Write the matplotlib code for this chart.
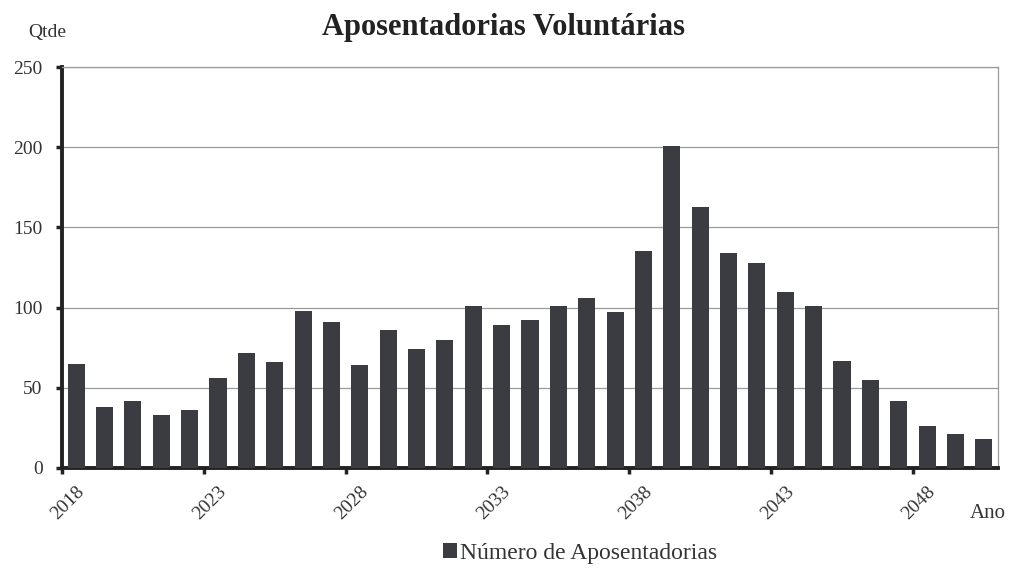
import matplotlib.pyplot as plt
import numpy as np

# Data
anos = list(range(2018, 2051))
aposentadorias = [65, 38, 42, 33, 36, 56, 72, 66, 98, 91,
                  64, 86, 74, 80, 101, 89, 92, 101, 106, 97,
                  135, 201, 163, 134, 128, 110, 101, 67, 55, 42,
                  26, 21, 18]
anos_rotulo = [2018, 2023, 2028, 2033, 2038, 2043, 2048]
y_ticks = [0, 50, 100, 150, 200, 250]

plt.rcParams['font.family'] = ['Liberation Serif', 'DejaVu Serif']

fig = plt.figure(figsize=(10.15, 5.75), dpi=100)
ax = fig.add_axes([62 / 1015, 1 - 468 / 575, 936 / 1015, 401 / 575])

bars = ax.bar(anos, aposentadorias, width=0.6, color='#3b3b42',
              label='Número de Aposentadorias', zorder=3)

ax.set_xlim(anos[0] - 0.5, anos[-1] + 0.5)
ax.set_ylim(0, 250)
ax.set_yticks(y_ticks)
ax.set_yticklabels([str(v) for v in y_ticks], fontsize=14, color='#333333')
ax.yaxis.grid(True, color='#9a9a9a', linewidth=0.9, zorder=0)
ax.tick_params(axis='y', length=4, width=2.5, color='#222222', pad=10)

# ticks between categories, labels on the category itself
ax.set_xticks([a - 0.5 for a in anos_rotulo])
ax.set_xticklabels([])
ax.tick_params(axis='x', which='major', length=4, width=2.5, color='#222222')
ax.set_xticks(anos_rotulo, minor=True)
ax.set_xticklabels([str(a) for a in anos_rotulo], minor=True, rotation=45,
                   ha='right', va='top', rotation_mode='anchor',
                   fontsize=14, color='#333333')
ax.tick_params(axis='x', which='minor', length=0, pad=11)

for side in ['top', 'right']:
    ax.spines[side].set_color('#9a9a9a')
    ax.spines[side].set_linewidth(0.9)
ax.spines['left'].set_linewidth(2.8)
ax.spines['left'].set_color('#222222')
ax.spines['bottom'].set_linewidth(2.8)
ax.spines['bottom'].set_color('#222222')

fig.text(504 / 1015, 1 - 28 / 575, 'Aposentadorias Voluntárias',
         ha='center', va='center', fontsize=22, fontweight='bold', color='#222222')
fig.text(28 / 1015, 1 - 33 / 575, 'Qtde', ha='left', va='center',
         fontsize=14, color='#333333')
fig.text(970 / 1015, 1 - 514 / 575, 'Ano', ha='left', va='center',
         fontsize=15, color='#333333')

fig.legend(handles=[bars], loc='center', bbox_to_anchor=(580 / 1015, 1 - 553 / 575),
           frameon=False, fontsize=17, handlelength=0.6, handleheight=0.6,
           handletextpad=0.1, labelcolor='#333333')

fig.savefig('out.png', dpi=100)
